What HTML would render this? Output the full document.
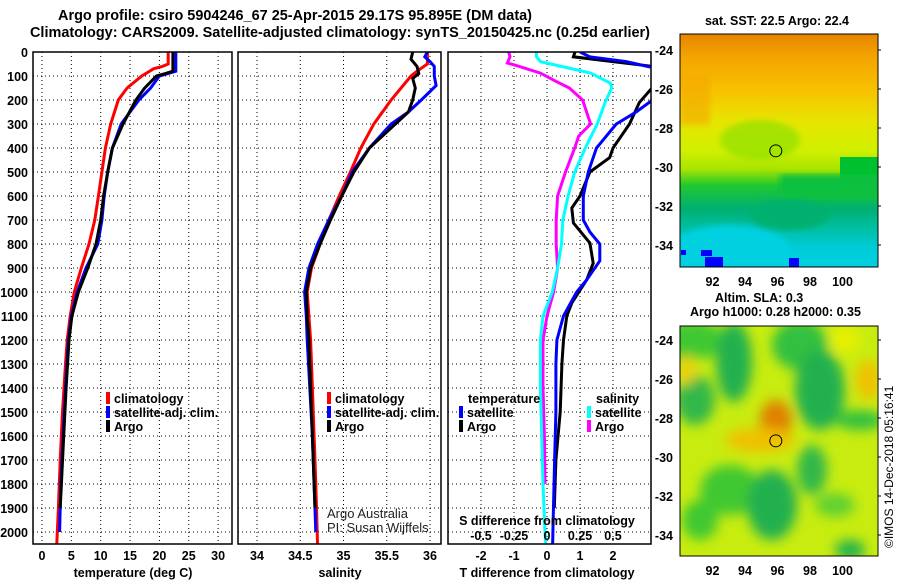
<!DOCTYPE html>
<html><head><meta charset="utf-8">
<style>
html,body{margin:0;padding:0;background:#fff;}
svg{display:block;font-family:"Liberation Sans",sans-serif;}
.b{font-weight:bold;font-size:12.5px;fill:#000;}
.t{font-weight:bold;font-size:14.5px;fill:#000;}
</style></head>
<body>
<svg id="chart" width="900" height="580" viewBox="0 0 900 580" xmlns="http://www.w3.org/2000/svg">
<defs>
<linearGradient id="sstg" x1="0" y1="0" x2="0" y2="1">
<stop offset="0" stop-color="#e88400"/><stop offset="0.1" stop-color="#f4a400"/>
<stop offset="0.24" stop-color="#f8c000"/><stop offset="0.37" stop-color="#e8e400"/>
<stop offset="0.5" stop-color="#d0f000"/><stop offset="0.58" stop-color="#a8e400"/>
<stop offset="0.65" stop-color="#20c830"/><stop offset="0.75" stop-color="#00b070"/>
<stop offset="0.84" stop-color="#00c0a8"/><stop offset="0.92" stop-color="#00ccd8"/>
<stop offset="1" stop-color="#00d0e0"/></linearGradient>
<filter id="bl"><feGaussianBlur stdDeviation="6"/></filter>
<filter id="bl2"><feGaussianBlur stdDeviation="3"/></filter>
<clipPath id="c1"><rect x="680" y="34" width="198" height="233"/></clipPath>
<clipPath id="c2"><rect x="680" y="326" width="198" height="230"/></clipPath>
<clipPath id="cp1"><rect x="33" y="52" width="199" height="492"/></clipPath>
<clipPath id="cp2"><rect x="238" y="52" width="203" height="492"/></clipPath>
<clipPath id="cp3"><rect x="448" y="52" width="203" height="492"/></clipPath>
</defs>
<text class="t" x="58" y="20" textLength="474" lengthAdjust="spacingAndGlyphs">Argo profile: csiro 5904246_67 25-Apr-2015 29.17S 95.895E (DM data)</text>
<text class="t" x="30" y="37" textLength="620" lengthAdjust="spacingAndGlyphs">Climatology: CARS2009. Satellite-adjusted climatology: synTS_20150425.nc (0.25d earlier)</text>
<g id="grid"></g>
<g id="lines"></g>
<g id="frames"></g>
<g id="labels"></g>

<g>
<rect x="106" y="392" width="4" height="12" fill="#f00"/><text class="b" x="114" y="403">climatology</text>
<rect x="106" y="406" width="4" height="12" fill="#00f"/><text class="b" x="114" y="417">satellite-adj. clim.</text>
<rect x="106" y="420" width="4" height="12" fill="#000"/><text class="b" x="114" y="431">Argo</text>
</g>
<g>
<rect x="327" y="392" width="4" height="12" fill="#f00"/><text class="b" x="335" y="403">climatology</text>
<rect x="327" y="406" width="4" height="12" fill="#00f"/><text class="b" x="335" y="417">satellite-adj. clim.</text>
<rect x="327" y="420" width="4" height="12" fill="#000"/><text class="b" x="335" y="431">Argo</text>
</g>
<g>
<text class="b" x="468" y="403">temperature</text>
<rect x="459" y="406" width="4" height="12" fill="#00f"/><text class="b" x="467" y="417">satellite</text>
<rect x="459" y="420" width="4" height="12" fill="#000"/><text class="b" x="467" y="431">Argo</text>
<text class="b" x="596" y="403">salinity</text>
<rect x="587" y="406" width="4" height="12" fill="#0ff"/><text class="b" x="595" y="417">satellite</text>
<rect x="587" y="420" width="4" height="12" fill="#f0f"/><text class="b" x="595" y="431">Argo</text>
</g>
<text x="327" y="518" font-size="13" fill="#222">Argo Australia</text>
<text x="327" y="532" font-size="13" fill="#222">PI: Susan Wijffels</text>
<text class="b" x="547" y="525" text-anchor="middle">S difference from climatology</text>

<text class="b" x="777" y="25" text-anchor="middle">sat. SST: 22.5 Argo: 22.4</text>
<g clip-path="url(#c1)">
<rect x="680" y="34" width="198" height="233" fill="url(#sstg)"/>
<rect x="680" y="75" width="30" height="50" fill="#f4a800" opacity="0.6" filter="url(#bl2)"/>
<rect x="840" y="157" width="40" height="34" fill="#00c030"/>
<rect x="780" y="175" width="100" height="25" fill="#10c040" filter="url(#bl2)"/>
<ellipse cx="730" cy="250" rx="60" ry="25" fill="#00d0e0" filter="url(#bl2)"/>
<ellipse cx="790" cy="215" rx="40" ry="15" fill="#00b070" filter="url(#bl2)"/>
<ellipse cx="760" cy="140" rx="40" ry="20" fill="#90e000" opacity="0.7" filter="url(#bl2)"/>
<rect x="701" y="250" width="11" height="6" fill="#0000ff"/>
<rect x="705" y="257" width="18" height="10" fill="#0000ff"/>
<rect x="789" y="258" width="10" height="9" fill="#0000ff"/>
<rect x="681" y="250" width="5" height="5" fill="#0000ff"/>
</g>
<rect x="680" y="34" width="198" height="233" fill="none" stroke="#000"/>
<circle id="sstc" cx="778" cy="150" r="6" fill="none" stroke="#000"/>

<text class="b" x="715" y="302">Altim. SLA: 0.3</text>
<text class="b" x="690" y="316">Argo h1000: 0.28 h2000: 0.35</text>
<g clip-path="url(#c2)">
<rect x="680" y="326" width="198" height="230" fill="#c8ec10"/>
<g filter="url(#bl)">
<ellipse cx="690" cy="340" rx="35" ry="20" fill="#40c830"/>
<ellipse cx="734" cy="362" rx="18" ry="40" fill="#20b050"/>
<ellipse cx="800" cy="345" rx="28" ry="25" fill="#30c040"/>
<ellipse cx="820" cy="390" rx="25" ry="40" fill="#20b050"/>
<ellipse cx="695" cy="400" rx="20" ry="25" fill="#30b848"/>
<ellipse cx="860" cy="420" rx="25" ry="10" fill="#30c040"/>
<ellipse cx="730" cy="490" rx="30" ry="25" fill="#40c830"/>
<ellipse cx="772" cy="505" rx="25" ry="35" fill="#20b050"/>
<ellipse cx="700" cy="520" rx="18" ry="20" fill="#40c830"/>
<ellipse cx="812" cy="470" rx="15" ry="25" fill="#30b848"/>
<ellipse cx="850" cy="550" rx="15" ry="10" fill="#20b050"/>
<ellipse cx="835" cy="505" rx="20" ry="12" fill="#60d030"/>
<ellipse cx="776" cy="420" rx="16" ry="20" fill="#e08000"/>
<ellipse cx="760" cy="440" rx="35" ry="12" fill="#f0c000"/>
<ellipse cx="868" cy="380" rx="12" ry="20" fill="#f0c000"/>
<ellipse cx="687" cy="370" rx="8" ry="15" fill="#f0d000"/>
<ellipse cx="845" cy="340" rx="15" ry="12" fill="#e8f000"/>
</g>
</g>
<rect x="680" y="326" width="198" height="230" fill="none" stroke="#000"/>
<circle id="slac" cx="778" cy="440" r="6" fill="none" stroke="#000"/>
<text x="893" y="548" font-size="12" fill="#000" transform="rotate(-90 893 548)">©IMOS 14-Dec-2018 05:16:41</text>
<g id="maplabels"></g>

<script>
const depthTicks=[0,100,200,300,400,500,600,700,800,900,1000,1100,1200,1300,1400,1500,1600,1700,1800,1900,2000];
const tempTicks=[0,5,10,15,20,25,30];
const salTicks=[34,34.5,35,35.5,36];
const tdiffTicks=[-2,-1,0,1,2];
const sdiffTicks=[-0.5,-0.25,0,0.25,0.5];
const sdiffTickLabels=["-0.5","-0.25","0","0.25","0.5"];
const lonTicks=[92,94,96,98,100];
const latTicks=[-24,-26,-28,-30,-32,-34];
const argoLon=95.895, argoLat=-29.17;

const tempClimDepth=[0,50,60,70,85,100,150,200,300,400,500,600,700,800,900,1000,1100,1200,1300,1500,1700,1900,2000,2060];
const tempClim=[21.5,21.5,20.5,19,18,17,14.5,13,11.7,10.8,10.2,9.6,9,8,6.7,5.5,4.8,4.3,4,3.5,3.1,2.8,2.6,2.5];
const tempSatDepth=[0,80,100,150,200,300,400,500,600,700,800,900,1000,1100,1200,1400,1600,1800,2000];
const tempSat=[22.8,22.8,20,18.5,16.5,13.5,12,11.2,10.6,10.2,9.5,7.5,6,5,4.5,4,3.6,3.2,3.0];
const tempArgoDepth=[0,80,90,100,150,200,300,400,500,600,700,800,900,1000,1100,1200,1400,1600,1800,1900];
const tempArgo=[22.3,22.3,21,19.5,17.5,16,13.8,12,11.2,10.5,10,9.2,7.8,6.2,5.1,4.6,4.1,3.7,3.3,3.1];
const salClimDepth=[0,50,80,100,200,300,400,500,600,700,800,900,1000,1100,1200,1400,1600,1800,2060];
const salClim=[35.97,35.97,35.85,35.78,35.55,35.35,35.2,35.08,34.95,34.83,34.73,34.63,34.58,34.6,34.62,34.64,34.66,34.68,34.7];
const salSatDepth=[0,20,40,60,100,140,200,250,300,400,500,600,700,800,900,1000,1100,1200,1400,1600,1800,2000];
const salSat=[35.97,35.94,36.0,36.05,36.05,36.07,35.9,35.75,35.55,35.3,35.1,34.98,34.83,34.7,34.6,34.55,34.57,34.58,34.61,34.64,34.66,34.68];
const salArgoDepth=[0,30,60,90,110,150,200,250,300,350,400,500,600,700,800,900,1000,1100,1200,1400,1600,1800,1900];
const salArgo=[35.8,35.78,35.85,35.87,35.8,35.83,35.8,35.75,35.6,35.45,35.3,35.12,34.98,34.85,34.73,34.62,34.57,34.58,34.6,34.62,34.64,34.66,34.67];
const tdSatDepth=[0,20,40,65,100,200,250,300,400,500,600,700,750,800,870,950,1000,1100,1200,1300,1500,1700,2000,2060];
const tdSat=[1.0,1.3,2.4,3.2,3.5,3.2,2.7,2.1,1.5,1.25,1.1,1.1,1.3,1.6,1.6,1.2,0.9,0.5,0.3,0.27,0.27,0.23,0.18,0.17];
const tdArgoDepth=[0,20,40,60,100,210,300,400,440,500,600,650,712,796,880,950,1046,1100,1200,1300,1500,1700,1900];
const tdArgo=[0.85,0.8,2.0,3.2,3.5,2.8,2.5,2.0,1.9,1.3,1.0,0.75,0.8,1.3,1.4,1.2,0.75,0.6,0.5,0.45,0.4,0.27,0.22];
const sdSatDepth=[0,20,40,88,130,150,210,300,400,500,600,700,800,900,1000,1100,1200,1400,1600,1800,2000,2050];
const sdSat=[-0.08,-0.08,-0.05,0.33,0.48,0.49,0.44,0.38,0.29,0.21,0.16,0.12,0.11,0.08,0.04,-0.03,-0.05,-0.05,-0.04,-0.03,-0.015,-0.01];
const sdArgoDepth=[0,20,46,55,88,120,150,200,300,350,400,500,600,700,800,900,1000,1100,1200,1400,1600,1800];
const sdArgo=[-0.29,-0.28,-0.3,-0.24,-0.05,0.06,0.17,0.27,0.33,0.24,0.21,0.14,0.08,0.07,0.07,0.08,0.05,0.0,-0.03,-0.03,-0.02,-0.015];

const NS="http://www.w3.org/2000/svg";
const yD=d=>52+d*0.24;
const xT=t=>42+t*5.87;
const xS=s=>257+(s-34)*86.5;
const xTD=t=>547+t*33;
const xSD=s=>547+s*132;
const mx=lon=>680+(lon-90)*16.25;
const my1=lat=>50+(-lat-24)*19.5;
const my2=lat=>340+(-lat-24)*19.5;
const panels=[{x0:33,x1:232},{x0:238,x1:441},{x0:448,x1:651}];
function mk(tag,attrs,parent){const e=document.createElementNS(NS,tag);for(const k in attrs)e.setAttribute(k,attrs[k]);parent.appendChild(e);return e;}
const grid=document.getElementById('grid'),lines=document.getElementById('lines'),frames=document.getElementById('frames'),labels=document.getElementById('labels'),maplabels=document.getElementById('maplabels');

const xTicksPerPanel=[tempTicks.map(xT),salTicks.map(xS),tdiffTicks.map(xTD)];
panels.forEach((p,i)=>{
  depthTicks.forEach(d=>{const l=mk('line',{x1:p.x0,x2:p.x1,y1:yD(d),y2:yD(d),stroke:'#000','stroke-dasharray':'1,3'},grid);
    
    });
  xTicksPerPanel[i].forEach(x=>{const l=mk('line',{x1:x,x2:x,y1:52,y2:544,stroke:'#000','stroke-dasharray':'1,3'},grid);
    
    });
  const f=mk('rect',{x:p.x0,y:52,width:p.x1-p.x0,height:492,fill:'none',stroke:'#000','stroke-width':1.5},frames);
  
  
});
depthTicks.forEach(d=>{const t=mk('text',{x:28,y:yD(d)+5,'text-anchor':'end',class:'b'},labels);t.textContent=d;
  
  });
function xlab(vals,fx,texts,y){vals.forEach((v,i)=>{const t=mk('text',{x:fx(v),y:y,'text-anchor':'middle',class:'b'},labels);t.textContent=texts?texts[i]:v;
  
  });}
xlab(tempTicks,xT,null,560);xlab(salTicks,xS,null,560);xlab(tdiffTicks,xTD,null,560);
xlab(sdiffTicks,xSD,sdiffTickLabels,540);
[['temperature (deg C)',133,'temperature-axis-title'],['salinity',340,'salinity-axis-title'],['T difference from climatology',547,'t-diff-axis-title']].forEach(a=>{
  const t=mk('text',{x:a[1],y:577,'text-anchor':'middle',class:'b'},labels);t.textContent=a[0];
  
  });

function prof(ds,vs,fx,color,clip,name){
  const pts=ds.map((d,i)=>fx(vs[i]).toFixed(1)+','+yD(d).toFixed(1)).join(' ');
  const l=mk('polyline',{points:pts,fill:'none',stroke:color,'stroke-width':3,'clip-path':'url(#'+clip+')'},lines);
  
  }
prof(tempClimDepth,tempClim,xT,'#f00','cp1','temp-climatology-line');
prof(tempSatDepth,tempSat,xT,'#00f','cp1','temp-satellite-line');
prof(tempArgoDepth,tempArgo,xT,'#000','cp1','temp-argo-line');
prof(salClimDepth,salClim,xS,'#f00','cp2','sal-climatology-line');
prof(salSatDepth,salSat,xS,'#00f','cp2','sal-satellite-line');
prof(salArgoDepth,salArgo,xS,'#000','cp2','sal-argo-line');
prof(sdArgoDepth,sdArgo,xSD,'#f0f','cp3','sdiff-argo-line');
prof(sdSatDepth,sdSat,xSD,'#0ff','cp3','sdiff-satellite-line');
prof(tdArgoDepth,tdArgo,xTD,'#000','cp3','tdiff-argo-line');
prof(tdSatDepth,tdSat,xTD,'#00f','cp3','tdiff-satellite-line');

[my1,my2].forEach(m=>{
  latTicks.forEach(la=>{const t=mk('text',{x:673,y:m(la)+5,'text-anchor':'end',class:'b'},maplabels);t.textContent=la;
    
    
    const k=mk('line',{x1:878,x2:881,y1:m(la),y2:m(la),stroke:'#000'},maplabels);
    
    });
});
lonTicks.forEach(lo=>{[286,575].forEach(y=>{const t=mk('text',{x:mx(lo),y:y,'text-anchor':'middle',class:'b'},maplabels);t.textContent=lo;
  
  });});
document.getElementById('sstc').setAttribute('cx',mx(argoLon));
document.getElementById('sstc').setAttribute('cy',my1(argoLat));
document.getElementById('slac').setAttribute('cx',mx(argoLon));
document.getElementById('slac').setAttribute('cy',my2(argoLat));
</script>
</svg>
</body></html>
